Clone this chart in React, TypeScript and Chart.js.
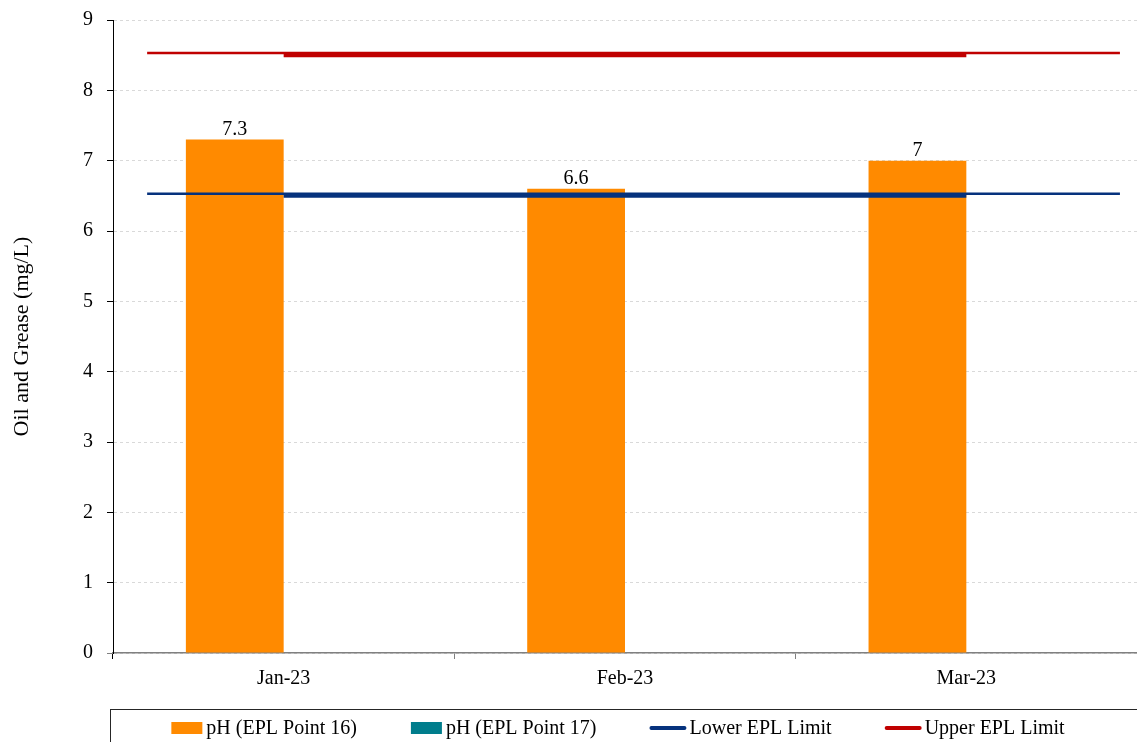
import React, { useEffect, useRef } from "react";
import { Chart, registerables } from "chart.js";

Chart.register(...registerables);

const categories = ["Jan-23", "Feb-23", "Mar-23"];
const point16 = [7.3, 6.6, 7];
const point17: (number | null)[] = [null, null, null];
const lowerLimit = [6.5, 6.5, 6.5];
const upperLimit = [8.5, 8.5, 8.5];
// second, thinner trace of each limit spanning most of the plot width
// (x given in category-index units of the x scale)
const thinLimitX = [-0.4, 2.45];
const thinLower = [6.53, 6.53];
const thinUpper = [8.53, 8.53];
const yTicks = [0, 1, 2, 3, 4, 5, 6, 7, 8, 9];

const FONT = "'Liberation Serif', 'Times New Roman', serif";
const ORANGE = "#FF8A00";
const TEAL = "#007D8C";
const NAVY = "#06327D";
const RED = "#C00000";

const thinLimits = {
  id: "thinLimits",
  afterDatasetDraw(chart: any, args: any) {
    if (args.index !== 0) return;
    const ctx = chart.ctx;
    const xs = chart.scales.x;
    const ys = chart.scales.y;
    const draw = (vals: number[], color: string) => {
      ctx.save();
      ctx.strokeStyle = color;
      ctx.lineWidth = 2.5;
      ctx.beginPath();
      thinLimitX.forEach((xv, i) => {
        const px = xs.getPixelForValue(xv);
        const py = ys.getPixelForValue(vals[i]);
        if (i === 0) ctx.moveTo(px, py);
        else ctx.lineTo(px, py);
      });
      ctx.stroke();
      ctx.restore();
    };
    draw(thinLower, NAVY);
    draw(thinUpper, RED);
  },
};

const dataLabels = {
  id: "dataLabels",
  afterDatasetsDraw(chart: any) {
    const ctx = chart.ctx;
    const meta = chart.getDatasetMeta(0);
    const ds = chart.data.datasets[0];
    ctx.save();
    ctx.font = `20px ${FONT}`;
    ctx.fillStyle = "#000";
    ctx.textAlign = "center";
    ctx.textBaseline = "bottom";
    meta.data.forEach((el: any, i: number) => {
      const v = ds.data[i];
      if (v == null) return;
      ctx.fillText(String(v), el.x, el.y);
    });
    ctx.restore();
  },
};

const boxLegend = {
  id: "boxLegend",
  afterDraw(chart: any) {
    const ctx = chart.ctx;
    const area = chart.chartArea;
    const items = chart.data.datasets;
    const boxW = 31;
    const lineW = 35;
    const gap = 4;
    const itemGap = 54;
    ctx.save();
    ctx.font = `20px ${FONT}`;
    const widths = items.map(
      (d: any) => (d.type === "line" ? lineW : boxW) + gap + ctx.measureText(d.label).width
    );
    const total = widths.reduce((a: number, b: number) => a + b, 0) + itemGap * (items.length - 1);
    const top = area.bottom + 56;
    const cy = top + 19;
    ctx.strokeStyle = "#262626";
    ctx.lineWidth = 1;
    ctx.strokeRect(area.left - 3 + 0.5, top + 0.5, chart.width + 10, 60);
    const center = (area.left + chart.width) / 2 - 7;
    let x = center - total / 2;
    items.forEach((d: any, i: number) => {
      const markW = d.type === "line" ? lineW : boxW;
      if (d.type === "line") {
        ctx.strokeStyle = d.borderColor;
        ctx.lineWidth = 4;
        ctx.lineCap = "round";
        ctx.beginPath();
        ctx.moveTo(x + 1, cy);
        ctx.lineTo(x + lineW - 1, cy);
        ctx.stroke();
      } else {
        ctx.fillStyle = d.backgroundColor;
        ctx.fillRect(x, cy - 6, boxW, 12);
      }
      ctx.fillStyle = "#000";
      ctx.textAlign = "left";
      ctx.textBaseline = "middle";
      ctx.fillText(d.label, x + markW + gap, cy + 1);
      x += widths[i] + itemGap;
    });
    ctx.restore();
  },
};

export default function App() {
  const ref = useRef<HTMLCanvasElement>(null);
  useEffect(() => {
    document.body.style.margin = "0";
    const chart = new Chart(ref.current as HTMLCanvasElement, {
      type: "bar",
      data: {
        labels: categories,
        datasets: [
          {
            label: "pH (EPL Point 16)",
            data: point16,
            backgroundColor: ORANGE,
            categoryPercentage: 0.573,
            barPercentage: 1,
            order: 10,
          } as any,
          {
            label: "pH (EPL Point 17)",
            data: point17,
            backgroundColor: TEAL,
            categoryPercentage: 0.573,
            barPercentage: 1,
            order: 10,
          },
          {
            type: "line",
            label: "Lower EPL Limit",
            data: lowerLimit,
            borderColor: NAVY,
            backgroundColor: NAVY,
            borderWidth: 4,
            pointRadius: 0,
            order: 0,
          },
          {
            type: "line",
            label: "Upper EPL Limit",
            data: upperLimit,
            borderColor: RED,
            backgroundColor: RED,
            borderWidth: 4,
            pointRadius: 0,
            order: 0,
          },
        ] as any,
      },
      options: {
        animation: false,
        responsive: true,
        maintainAspectRatio: false,
        layout: { padding: { top: 20, right: 0, bottom: 43, left: 0 } },
        plugins: {
          legend: { display: false },
          tooltip: { enabled: false },
        },
        scales: {
          x: {
            type: "category",
            offset: true,
            grid: {
              display: true,
              offset: true,
              drawOnChartArea: false,
              drawTicks: true,
              tickLength: 6,
              tickColor: (c: any) => (c.index === 0 ? "#000" : "#808080"),
            },
            border: { color: "#808080", width: 1.5 },
            ticks: { font: { family: FONT, size: 20 }, color: "#000", padding: 8 },
          },
          y: {
            min: 0,
            max: 9,
            afterFit: (s: any) => {
              s.width = 113;
              s.paddingTop = 0;
            },
            afterBuildTicks: (s: any) => {
              s.ticks = yTicks.map((v) => ({ value: v }));
            },
            grid: {
              color: "#d9d9d9",
              lineWidth: 1,
              tickLength: 6,
              tickColor: (c: any) => (c.tick && c.tick.value === 0 ? "#808080" : "#000"),
            },
            border: { color: "#000", width: 1, dash: [3, 3] },
            ticks: {
              font: { family: FONT, size: 20 },
              color: "#000",
              padding: 14,
            },
            title: {
              display: true,
              text: "Oil and Grease (mg/L)",
              font: { family: FONT, size: 22 },
              color: "#000",
              padding: { top: 9, bottom: 0 },
            },
          },
        },
      },
      plugins: [thinLimits, dataLabels, boxLegend],
    });
    return () => chart.destroy();
  }, []);
  return (
    <div style={{ width: 1137, height: 742, position: "relative" }}>
      <canvas ref={ref} />
    </div>
  );
}
